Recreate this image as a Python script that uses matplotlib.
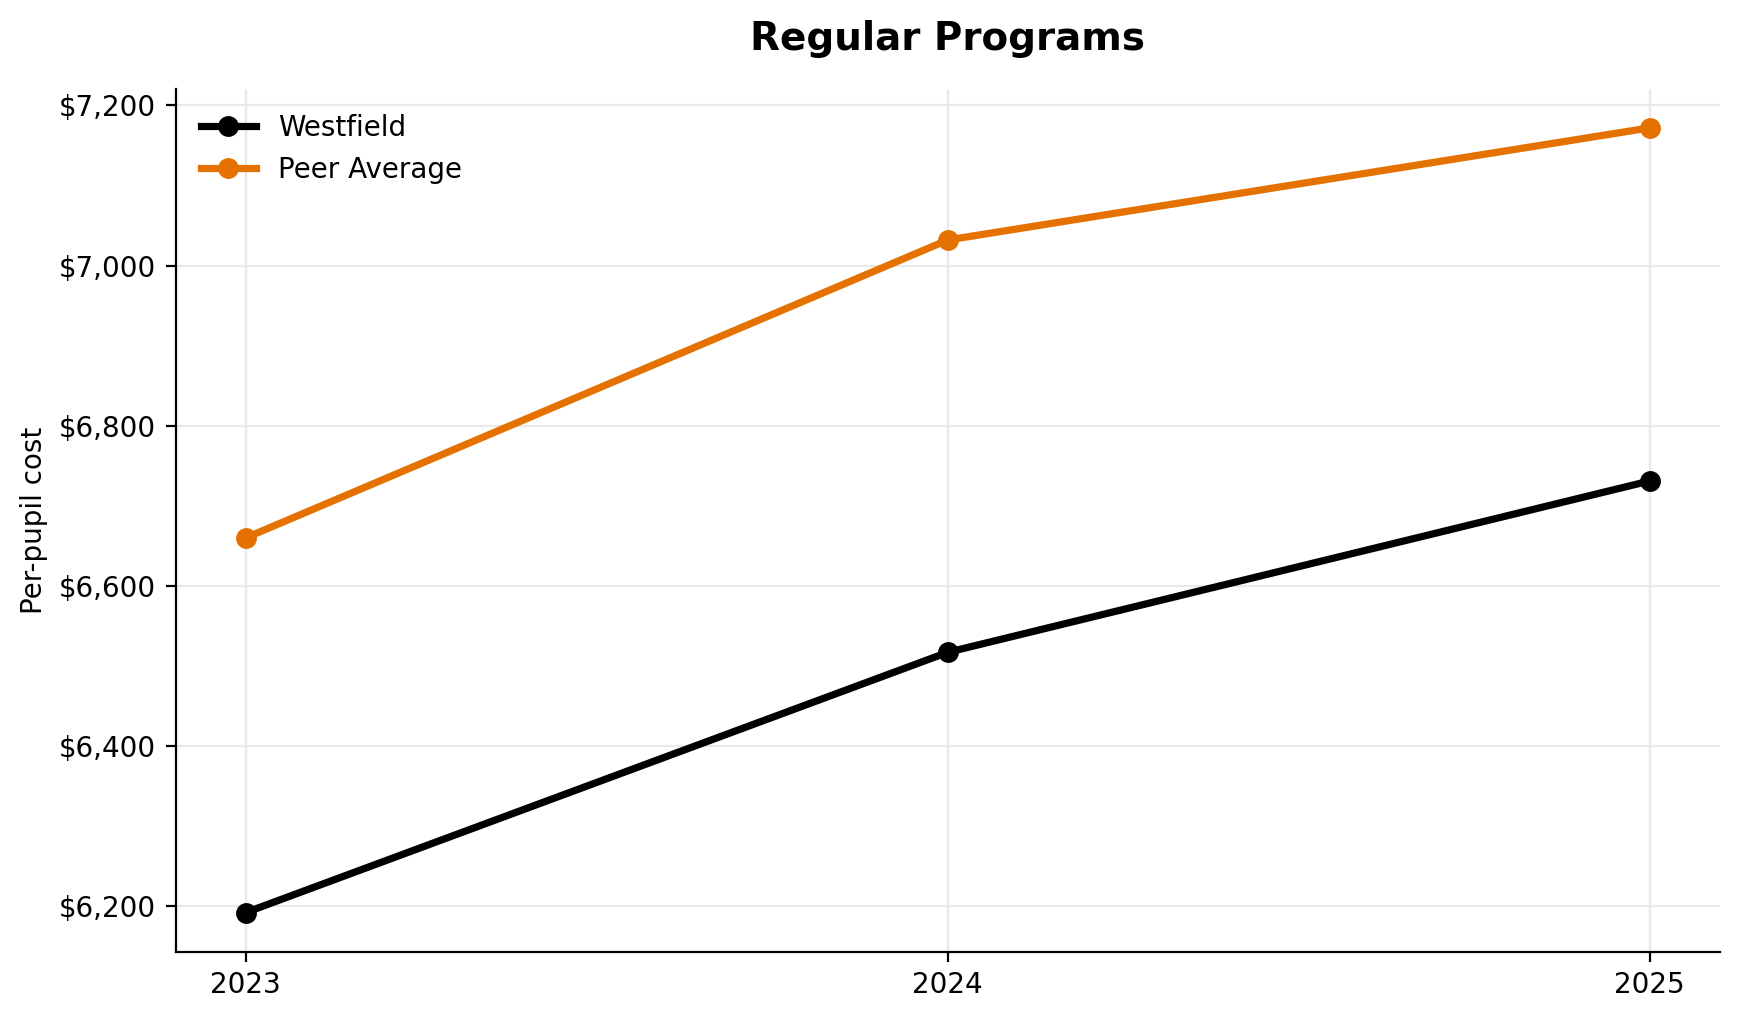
import matplotlib
matplotlib.use("Agg")
import matplotlib.pyplot as plt
from matplotlib.ticker import FuncFormatter

# Per-pupil cost, Regular Programs
years = [2023, 2024, 2025]
westfield = [6192, 6517, 6731]
peer_avg = [6660, 7032, 7172]

fig, ax = plt.subplots(figsize=(8.695, 5.095), dpi=200)

ax.plot(years, westfield, color="black", linewidth=2.6, marker="o",
        markersize=6.5, label="Westfield")
ax.plot(years, peer_avg, color="#E57200", linewidth=2.6, marker="o",
        markersize=6.5, label="Peer Average")

ax.set_title("Regular Programs", fontsize=14, fontweight="bold", pad=14)
ax.set_ylabel("Per-pupil cost", fontsize=10)
ax.set_xticks(years)
ax.set_xticklabels([str(y) for y in years])
ax.yaxis.set_major_formatter(FuncFormatter(lambda v, p: f"${v:,.0f}"))
ax.tick_params(labelsize=10)

ax.grid(True, color="#e9e9e9", linewidth=0.8)
ax.set_axisbelow(True)
ax.spines["top"].set_visible(False)
ax.spines["right"].set_visible(False)

ax.legend(loc="upper left", frameon=False, fontsize=10)

fig.subplots_adjust(left=0.101, right=0.989, top=0.913, bottom=0.066)
fig.savefig("out.png", dpi=200)
